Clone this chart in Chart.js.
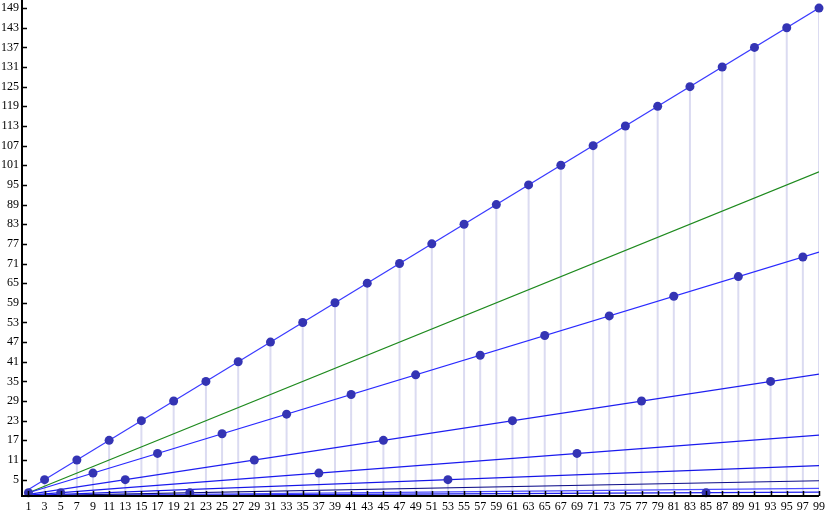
<!DOCTYPE html>
<html>
<head>
<meta charset="utf-8">
<script src="https://cdn.jsdelivr.net/npm/chart.js@4.4.1/dist/chart.umd.min.js"></script>
<style>
  body { margin: 0; background: #fff; }
  canvas { display: block; }
</style>
</head>
<body>
<canvas id="chart" width="825" height="515"></canvas>
<script>
// odd starting values and where each one lands after 3x+1 and halving
const oddX = [1, 3, 5, 7, 9, 11, 13, 15, 17, 19, 21, 23, 25, 27, 29, 31, 33, 35, 37, 39,
  41, 43, 45, 47, 49, 51, 53, 55, 57, 59, 61, 63, 65, 67, 69, 71, 73, 75, 77, 79,
  81, 83, 85, 87, 89, 91, 93, 95, 97, 99];
const nextOdd = [1, 5, 1, 11, 7, 17, 5, 23, 13, 29, 1, 35, 19, 41, 11, 47, 25, 53, 7, 59,
  31, 65, 17, 71, 37, 77, 5, 83, 43, 89, 23, 95, 49, 101, 13, 107, 55, 113, 29, 119,
  61, 125, 1, 131, 67, 137, 35, 143, 73, 149];

// straight guide lines: value at x = 1 and at x = 99
const lineStart = [2, 1, 0.5, 0.25, 0.125, 0.0625, 0.031, 0.016];
const lineEnd = [149, 74.5, 37.25, 18.6, 9.3, 4.65, 2.33, 1.16];
const lineColors = ['#3a3aff', '#2a2aff', '#1f1ff0', '#1a1aee', '#1515e6', '#10108a', '#4b4bff', '#2020ee'];
const diagStart = [1, 1];
const diagEnd = [99, 99];

const xTicks = oddX;
const yTicks = [5, 11, 17, 23, 29, 35, 41, 47, 53, 59, 65, 71, 77, 83, 89, 95, 101,
  107, 113, 119, 125, 131, 137, 143, 149];

const datasets = [];

// vertical drop lines from each point down to the axis
const drops = [];
oddX.forEach((x, i) => {
  drops.push({ x: x, y: 0 }, { x: x, y: nextOdd[i] }, { x: x, y: null });
});
datasets.push({
  data: drops,
  showLine: true,
  spanGaps: false,
  borderColor: 'rgba(190,190,230,0.55)',
  borderWidth: 2,
  pointRadius: 0,
  order: 3
});

lineStart.forEach((s, k) => {
  datasets.push({
    data: [{ x: 1, y: s }, { x: 99, y: lineEnd[k] }],
    showLine: true,
    borderColor: lineColors[k],
    borderWidth: 1.2,
    pointRadius: 0,
    order: 2
  });
});

datasets.push({
  data: [{ x: diagStart[0], y: diagStart[1] }, { x: diagEnd[0], y: diagEnd[1] }],
  showLine: true,
  borderColor: '#1e8a1e',
  borderWidth: 1.2,
  pointRadius: 0,
  order: 2
});

datasets.push({
  data: oddX.map((x, i) => ({ x: x, y: nextOdd[i] })),
  showLine: false,
  pointRadius: 4.5,
  pointBackgroundColor: '#3434b4',
  pointBorderColor: '#3434b4',
  pointBorderWidth: 0,
  clip: false,
  order: 1
});

// draw the axis tick marks pointing into the plot
const innerTicks = {
  id: 'innerTicks',
  afterDraw(chart) {
    const ctx = chart.ctx;
    const area = chart.chartArea;
    const xs = chart.scales.x, ys = chart.scales.y;
    ctx.save();
    ctx.strokeStyle = '#000';
    ctx.lineWidth = 1.5;
    ctx.beginPath();
    xTicks.forEach(v => {
      const px = Math.round(xs.getPixelForValue(v)) + 0.5;
      ctx.moveTo(px, area.bottom);
      ctx.lineTo(px, area.bottom - 5);
    });
    yTicks.forEach(v => {
      const py = Math.round(ys.getPixelForValue(v)) + 0.5;
      ctx.moveTo(area.left, py);
      ctx.lineTo(area.left + 5, py);
    });
    ctx.stroke();
    ctx.lineWidth = 2;
    ctx.beginPath();
    ctx.moveTo(area.left, 0);
    ctx.lineTo(area.left, area.bottom);
    ctx.lineTo(area.right, area.bottom);
    ctx.stroke();
    ctx.restore();
  }
};

new Chart(document.getElementById('chart'), {
  type: 'scatter',
  data: { datasets: datasets },
  options: {
    responsive: false,
    animation: false,
    layout: { padding: { top: 0, right: 6, left: 0, bottom: 0 } },
    plugins: {
      legend: { display: false },
      tooltip: { enabled: false }
    },
    elements: { line: { tension: 0 } },
    scales: {
      x: {
        type: 'linear',
        min: 0.2,
        max: 99,
        grid: { display: false, drawTicks: false },
        border: { display: false },
        afterBuildTicks: scale => { scale.ticks = xTicks.map(v => ({ value: v })); },
        afterFit: scale => {
          scale.height = 19;
          scale.paddingLeft = 0;
          scale.paddingRight = 0;
        },
        ticks: {
          autoSkip: false,
          maxRotation: 0,
          padding: 4,
          color: '#000',
          font: { family: 'Liberation Serif', size: 12 }
        }
      },
      y: {
        type: 'linear',
        min: 0,
        max: 150.1,
        grid: { display: false, drawTicks: false },
        border: { display: false },
        afterBuildTicks: scale => { scale.ticks = yTicks.map(v => ({ value: v })); },
        afterFit: scale => {
          scale.width = 22;
          scale.paddingTop = 0;
          scale.paddingBottom = 0;
        },
        ticks: {
          autoSkip: false,
          padding: 3,
          color: '#000',
          font: { family: 'Liberation Serif', size: 12 }
        }
      }
    }
  },
  plugins: [innerTicks]
});
</script>
</body>
</html>
